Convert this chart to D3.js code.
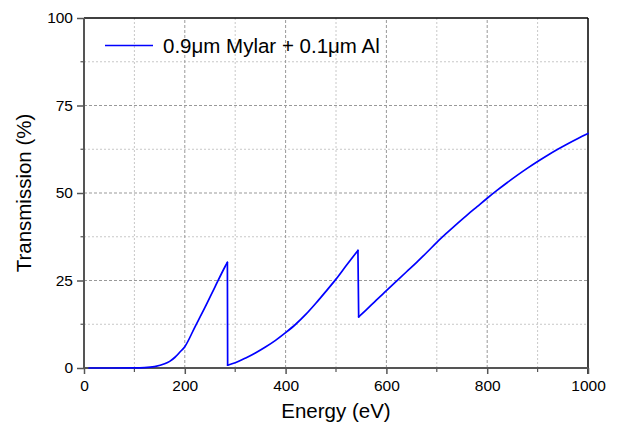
<!DOCTYPE html>
<html>
<head>
<meta charset="utf-8">
<script src="https://cdn.jsdelivr.net/npm/d3@7"></script>
<style>
  body { margin: 0; background: #fff; }
  svg { display: block; font-family: "Liberation Sans", Arial, sans-serif; }
</style>
</head>
<body>
<div id="chart"></div>
<script>
// ---- data ----
const energy = [10, 50, 100, 120, 140, 160, 170, 180, 190, 200, 220, 240, 260, 280, 284.5,
  285, 300, 320, 340, 360, 380, 400, 420, 440, 460, 480, 500, 520, 543.5,
  545, 560, 580, 600, 620, 640, 660, 680, 700, 720, 740, 760, 780, 800,
  820, 840, 860, 880, 900, 920, 940, 960, 980, 1000];
const transmission = [0, 0, 0.02, 0.1, 0.4, 1.2, 1.9, 3.0, 4.5, 6.1, 11.7, 17.3, 23.2, 29.0, 30.2,
  0.8, 1.5, 2.8, 4.3, 6.0, 7.9, 10.1, 12.5, 15.3, 18.5, 21.9, 25.4, 29.2, 33.6,
  14.6, 16.6, 19.4, 22.1, 24.8, 27.5, 30.2, 33.0, 35.9, 38.6, 41.2, 43.7, 46.1, 48.5,
  50.8, 53.0, 55.1, 57.1, 59.0, 60.8, 62.5, 64.1, 65.6, 67.0];
// absorption edges: the curve jumps down between these indices
const edgeBreaks = [14, 28];
const xTicks = [0, 200, 400, 600, 800, 1000];
const xMinor = [100, 300, 500, 700, 900];
const yTicks = [0, 25, 50, 75, 100];
const yMinor = [12.5, 37.5, 62.5, 87.5];
const legendLabel = "0.9\u03bcm Mylar + 0.1\u03bcm Al";

// ---- layout ----
const W = 620, H = 428;
const m = { left: 84, right: 32, top: 18, bottom: 60 };

const svg = d3.select("#chart").append("svg")
  .attr("width", W).attr("height", H);

const x = d3.scaleLinear().domain([0, 1000]).range([m.left, W - m.right]);
const y = d3.scaleLinear().domain([0, 100]).range([H - m.bottom, m.top]);

// grid - minor (light dotted)
const grid = svg.append("g");
grid.selectAll(".vmin").data(xMinor).enter().append("line")
  .attr("x1", d => x(d)).attr("x2", d => x(d))
  .attr("y1", y(0)).attr("y2", y(100))
  .attr("stroke", "#c8c8c8").attr("stroke-width", 1).attr("stroke-dasharray", "2,2");
grid.selectAll(".hmin").data(yMinor).enter().append("line")
  .attr("x1", x(0)).attr("x2", x(1000))
  .attr("y1", d => y(d)).attr("y2", d => y(d))
  .attr("stroke", "#c8c8c8").attr("stroke-width", 1).attr("stroke-dasharray", "2,2");
// grid - major (dashed)
grid.selectAll(".vmaj").data(xTicks.slice(1, -1)).enter().append("line")
  .attr("x1", d => x(d)).attr("x2", d => x(d))
  .attr("y1", y(0)).attr("y2", y(100))
  .attr("stroke", "#999").attr("stroke-width", 1).attr("stroke-dasharray", "3,2");
grid.selectAll(".hmaj").data(yTicks.slice(1, -1)).enter().append("line")
  .attr("x1", x(0)).attr("x2", x(1000))
  .attr("y1", d => y(d)).attr("y2", d => y(d))
  .attr("stroke", "#999").attr("stroke-width", 1).attr("stroke-dasharray", "3,2");

// frame: top + right black
svg.append("line").attr("x1", x(0)).attr("x2", x(1000)).attr("y1", y(100)).attr("y2", y(100))
  .attr("stroke", "#000").attr("stroke-width", 1.5);
svg.append("line").attr("x1", x(1000)).attr("x2", x(1000)).attr("y1", y(100)).attr("y2", y(0) + 6)
  .attr("stroke", "#000").attr("stroke-width", 1.5);

// axes
const xAxis = svg.append("g").attr("transform", `translate(0,${y(0)})`)
  .call(d3.axisBottom(x).tickValues(xTicks).tickFormat(d3.format("d")).tickSize(6).tickPadding(6));
const yAxis = svg.append("g").attr("transform", `translate(${x(0)},0)`)
  .call(d3.axisLeft(y).tickValues(yTicks).tickFormat(d3.format("d")).tickSize(7).tickPadding(4));

[xAxis, yAxis].forEach(a => {
  a.select(".domain").attr("stroke", "#555").attr("stroke-width", 2);
  a.selectAll(".tick line").attr("stroke", "#555").attr("stroke-width", 1.5);
  a.selectAll(".tick text").attr("fill", "#000").attr("font-size", 15.5)
    .attr("font-family", "Liberation Sans, Arial, sans-serif");
});
xAxis.select(".domain").attr("d", `M${x(0)},0H${x(1000)}`);
yAxis.select(".domain").attr("d", `M0,${y(0)}V${y(100)}`);

// minor ticks
svg.selectAll(".xmt").data(xMinor).enter().append("line")
  .attr("x1", d => x(d)).attr("x2", d => x(d))
  .attr("y1", y(0)).attr("y2", y(0) + 4)
  .attr("stroke", "#555").attr("stroke-width", 1.2);
svg.selectAll(".ymt").data(yMinor).enter().append("line")
  .attr("x1", x(0) - 3.5).attr("x2", x(0))
  .attr("y1", d => y(d)).attr("y2", d => y(d))
  .attr("stroke", "#555").attr("stroke-width", 1.2);

// curve: smooth pieces between the edges, straight drops at the edges
const pts = energy.map((e, i) => [e, transmission[i]]);
const bounds = [0, ...edgeBreaks.map(b => b + 1), pts.length];
const pieces = [];
for (let k = 0; k < bounds.length - 1; k++) pieces.push(pts.slice(bounds[k], bounds[k + 1]));
const drops = edgeBreaks.map(b => [pts[b], pts[b + 1]]);

const smooth = d3.line().x(d => x(d[0])).y(d => y(d[1])).curve(d3.curveMonotoneX);
const straight = d3.line().x(d => x(d[0])).y(d => y(d[1]));
const curveG = svg.append("g")
  .attr("fill", "none").attr("stroke", "#0000ff").attr("stroke-width", 1.7)
  .attr("stroke-linejoin", "round").attr("stroke-linecap", "round");
curveG.selectAll(".piece").data(pieces).enter().append("path").attr("d", smooth);
curveG.selectAll(".drop").data(drops).enter().append("path").attr("d", straight);

// axis titles
svg.append("text")
  .attr("x", (x(0) + x(1000)) / 2).attr("y", 418)
  .attr("text-anchor", "middle").attr("font-size", 20.5)
  .text("Energy (eV)");
svg.append("text")
  .attr("transform", `translate(31,${(y(0) + y(100)) / 2}) rotate(-90)`)
  .attr("text-anchor", "middle").attr("font-size", 20.5)
  .text("Transmission (%)");

// legend
const leg = svg.append("g");
leg.append("line").attr("x1", 105).attr("x2", 153).attr("y1", 45.5).attr("y2", 45.5)
  .attr("stroke", "#0000ff").attr("stroke-width", 1.7);
leg.append("text").attr("x", 163).attr("y", 53).attr("font-size", 20.5).text(legendLabel);
</script>
</body>
</html>
